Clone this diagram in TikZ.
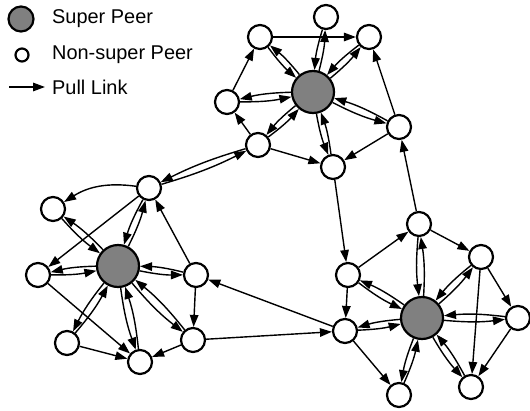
\documentclass[tikz,border=0pt]{standalone}
\usepackage{fontspec}
\setmainfont{Liberation Sans}
\usepackage{xcolor}
\usetikzlibrary{arrows.meta, positioning}
\definecolor{supergray}{RGB}{128,128,128}

\begin{document}
\begin{tikzpicture}[x=1bp, y=1bp,
        super/.style={draw, circle, line width=2.2bp, fill=supergray, minimum size=42bp, inner sep=0pt},
        peer/.style={draw, circle, line width=2.2bp, fill=white, minimum size=24bp, inner sep=0pt},
        pull/.style={-{Triangle[length=12bp, width=8.5bp]}, line width=1.4bp},
        legtext/.style={anchor=west, inner sep=0pt, font=\fontsize{20}{24}\selectfont}]
            \useasboundingbox (0,0) rectangle (530,410);

            % legend
            \node[super, minimum size=25bp] (keysuper) at (21,391) {};
            \node[legtext] (keysupertext) at (52,391) {Super Peer};
            \node[peer, minimum size=13bp] (keypeer) at (22,355) {};
            \node[legtext] (keypeertext) at (52,355) {Non-super Peer};
            \coordinate (keyfrom) at (9,323);
            \coordinate (keyto) at (45,323);
            \draw[pull] (keyfrom) -- (keyto);
            \node[legtext] (keypulltext) at (52,323) {Pull Link};

            % super peers
            \node[super] (s1) at (313,318) {};
            \node[super] (s2) at (118,144) {};
            \node[super] (s3) at (422,92) {};

            % peers
            \node[peer] (a) at (260,373) {};
            \node[peer] (b) at (326,393) {};
            \node[peer] (c) at (369,373) {};
            \node[peer] (d) at (227,308) {};
            \node[peer] (e) at (258,265) {};
            \node[peer] (f) at (333,243) {};
            \node[peer] (g) at (399,283) {};

            \node[peer] (h) at (149,222) {};
            \node[peer] (i) at (53,201) {};
            \node[peer] (j) at (38,135) {};
            \node[peer] (k) at (196,135) {};
            \node[peer] (l) at (67,67) {};
            \node[peer] (m) at (140,48) {};
            \node[peer] (n) at (193,70) {};

            \node[peer] (o) at (419,186) {};
            \node[peer] (p) at (481,153) {};
            \node[peer] (q) at (348,135) {};
            \node[peer] (r) at (345,79) {};
            \node[peer] (s) at (518,92) {};
            \node[peer] (t) at (399,15) {};
            \node[peer] (u) at (471,23) {};

            % links to the super peers
            \foreach \p in {a,b,c,d,e,f,g} {
                \draw[pull] (s1) to[bend right=6] (\p);
                \draw[pull] (\p) to[bend right=6] (s1);
            }
            \foreach \p in {h,i,j,k,l,m,n} {
                \draw[pull] (s2) to[bend right=6] (\p);
                \draw[pull] (\p) to[bend right=6] (s2);
            }
            \foreach \p in {o,p,q,r,s,t,u} {
                \draw[pull] (s3) to[bend right=6] (\p);
                \draw[pull] (\p) to[bend right=6] (s3);
            }

            % links between peers
            \foreach \from/\to in {a/c, d/a, e/d, e/f, g/f, g/c, o/g, f/q, q/r, r/k, n/r,
                    k/n, k/h, n/m, h/j, j/m, l/m, o/p, q/o, p/s, p/u, s/u, r/t} {
                \draw[pull] (\from) -- (\to);
            }
            \draw[pull] (h) to[bend right=20] (i);
            \draw[pull] (h) to[bend right=5] (e);
            \draw[pull] (e) to[bend right=5] (h);
        \end{tikzpicture}
\end{document}
